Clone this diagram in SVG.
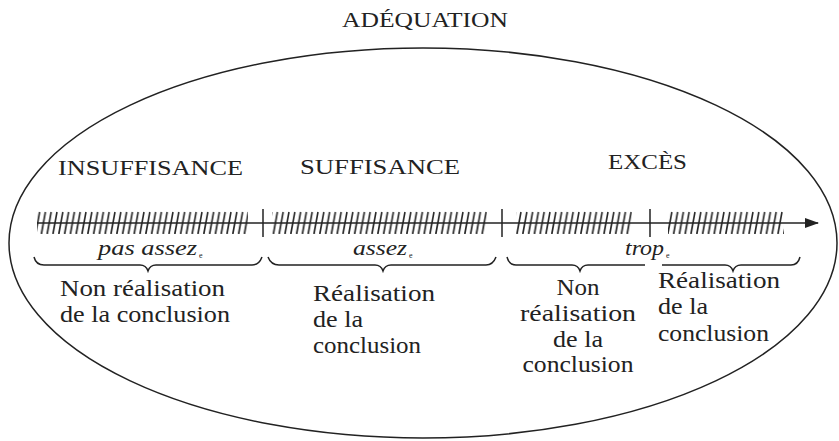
<svg xmlns="http://www.w3.org/2000/svg" width="839" height="441" viewBox="0 0 839 441">
<style>
  .t { font-family: "Liberation Serif", "Times New Roman", serif; fill: #222; }
  .h { font-size: 21px; }
  .b { font-size: 23px; }
  .i { font-size: 20px; font-style: italic; }
  .s { font-size: 8px; }
  .ln { stroke: #222; fill: none; stroke-width: 1.5; }
</style>
<defs>
  <pattern id="hatch" patternUnits="userSpaceOnUse" x="0" y="211" width="5.8" height="24">
    <line x1="0.8" y1="23" x2="4.8" y2="1" stroke="#222" stroke-width="1.6"/>
  </pattern>
  <marker id="arr" markerWidth="14" markerHeight="10" refX="13" refY="5" orient="auto" markerUnits="userSpaceOnUse">
    <path d="M0,0 L14,5 L0,10 Z" fill="#222"/>
  </marker>
</defs>
<rect width="839" height="441" fill="#ffffff"/>

<g id="frame">
  <ellipse cx="423" cy="243" rx="414" ry="195" class="ln"/>
  <text class="t h" x="342" y="27" textLength="166" lengthAdjust="spacingAndGlyphs">ADÉQUATION</text>
</g>

<g id="connectors">
  <line x1="37" y1="223" x2="818" y2="223" class="ln" marker-end="url(#arr)"/>
  <line x1="263" y1="209" x2="263" y2="237" class="ln"/>
  <line x1="502" y1="209" x2="502" y2="237" class="ln"/>
  <line x1="650" y1="209" x2="650" y2="237" class="ln"/>
  <rect x="37" y="211" width="211" height="23" fill="url(#hatch)"/>
  <rect x="272" y="211" width="215" height="23" fill="url(#hatch)"/>
  <rect x="516" y="211" width="116" height="23" fill="url(#hatch)"/>
  <rect x="668" y="211" width="116" height="23" fill="url(#hatch)"/>
  <path class="ln" d="M34,257 Q36,265 44,265 L140,265 Q146,265 148,271 Q150,265 156,265 L252,265 Q259,265 262,257"/>
  <path class="ln" d="M268,257 Q271,265 279,265 L375,265 Q381,265 383,271 Q385,265 391,265 L486,265 Q493,265 496,257"/>
  <path class="ln" d="M507,257 Q509,265 516,265 L572,265 Q578,265 580,271 Q582,265 588,265 L645,265"/>
  <path class="ln" d="M662,265 L725,265 Q731,265 733,271 Q735,265 741,265 L791,265 Q798,265 800,257"/>
</g>

<g id="insuffisance">
  <text class="t h" x="58" y="175" textLength="185" lengthAdjust="spacingAndGlyphs">INSUFFISANCE</text>
  <text class="t i" x="98" y="255" textLength="99" lengthAdjust="spacingAndGlyphs">pas assez</text>
  <text class="t s" x="199" y="258">e</text>
  <text class="t b" x="60" y="296" textLength="165" lengthAdjust="spacingAndGlyphs">Non réalisation</text>
  <text class="t b" x="60" y="322" textLength="170" lengthAdjust="spacingAndGlyphs">de la conclusion</text>
</g>

<g id="suffisance">
  <text class="t h" x="300" y="174" textLength="160" lengthAdjust="spacingAndGlyphs">SUFFISANCE</text>
  <text class="t i" x="353" y="255" textLength="54" lengthAdjust="spacingAndGlyphs">assez</text>
  <text class="t s" x="409" y="258">e</text>
  <text class="t b" x="313" y="301" textLength="122" lengthAdjust="spacingAndGlyphs">Réalisation</text>
  <text class="t b" x="313" y="327" textLength="50" lengthAdjust="spacingAndGlyphs">de la</text>
  <text class="t b" x="313" y="353" textLength="108" lengthAdjust="spacingAndGlyphs">conclusion</text>
</g>

<g id="exces">
  <text class="t h" x="608" y="169" textLength="79" lengthAdjust="spacingAndGlyphs">EXCÈS</text>
  <text class="t i" x="625" y="255" textLength="39" lengthAdjust="spacingAndGlyphs">trop</text>
  <text class="t s" x="666" y="258">e</text>
</g>

<g id="exces-non">
  <text class="t b" x="578" y="295" text-anchor="middle" textLength="43" lengthAdjust="spacingAndGlyphs">Non</text>
  <text class="t b" x="578" y="321" text-anchor="middle" textLength="116" lengthAdjust="spacingAndGlyphs">réalisation</text>
  <text class="t b" x="578" y="347" text-anchor="middle" textLength="50" lengthAdjust="spacingAndGlyphs">de la</text>
  <text class="t b" x="578" y="372" text-anchor="middle" textLength="111" lengthAdjust="spacingAndGlyphs">conclusion</text>
</g>

<g id="exces-real">
  <text class="t b" x="658" y="288" textLength="122" lengthAdjust="spacingAndGlyphs">Réalisation</text>
  <text class="t b" x="658" y="314" textLength="50" lengthAdjust="spacingAndGlyphs">de la</text>
  <text class="t b" x="658" y="341" textLength="111" lengthAdjust="spacingAndGlyphs">conclusion</text>
</g>
</svg>
